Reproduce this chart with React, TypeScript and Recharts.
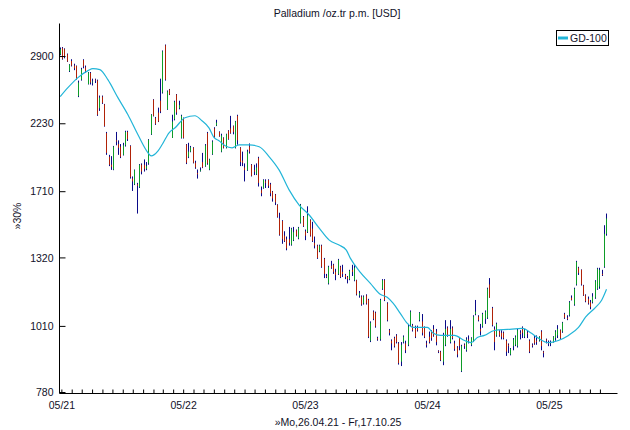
import { Bar, ComposedChart, Line, XAxis, YAxis } from "recharts";

const START = Date.UTC(2021, 3, 26);
const WEEK = 7 * 864e5;

// weekly bars, Mo 26.04.21 .. Fr 17.10.25
const OPEN = [
  2925, 3000, 2985, 2925, 2740, 2850, 2800, 2795, 2485, 2650,
  2860, 2780, 2605, 2720, 2620, 2650, 2640, 2370, 2480, 2405,
  2150, 1960, 1900, 1865, 2090, 2060, 2040, 1975, 2050, 2160,
  2045, 1800, 1760, 1760, 1740, 1900, 1900, 1870, 1910, 2140,
  2450, 2280, 2330, 2440, 2520, 3030, 2360, 2550, 2110, 2270,
  2500, 2370, 2110, 2280, 2055, 1960, 2000, 2030, 1915, 1840,
  1855, 1920, 1890, 2150, 1865, 1980, 2190, 2215, 2160, 2000,
  2110, 2030, 2170, 2190, 2210, 2030, 2300, 2030, 1930, 1880,
  1860, 2040, 1900, 1860, 1830, 1950, 1720, 1735, 1780, 1790,
  1760, 1710, 1690, 1625, 1540, 1525, 1440, 1420, 1420, 1390,
  1415, 1470, 1425, 1515, 1550, 1465, 1460, 1530, 1480, 1400,
  1385, 1355, 1385, 1315, 1230, 1195, 1280, 1285, 1250, 1240,
  1275, 1250, 1235, 1225, 1215, 1260, 1210, 1210, 1140, 1135,
  1105, 1140, 1120, 955, 1070, 1065, 965, 960, 1170, 1210,
  1105, 995, 955, 965, 975, 945, 880, 950, 945, 940,
  1015, 1015, 1000, 1005, 1035, 1030, 1005, 945, 970, 990,
  1000, 990, 918, 915, 880, 940, 1005, 950, 1005, 945,
  930, 965, 848, 940, 920, 960, 940, 955, 1060, 1050,
  1000, 1010, 1040, 1045, 1190, 1085, 1000, 975, 990, 985,
  985, 955, 940, 905, 935, 940, 935, 985, 1005, 970,
  985, 955, 940, 965, 955, 955, 990, 915, 960, 950,
  945, 950, 965, 975, 995, 990, 1060, 1045, 1055, 1130,
  1100, 1190, 1270, 1260, 1185, 1140, 1125, 1110, 1110, 1130,
  1170, 1180, 1240, 1275, 1450,
];
const HIGH = [
  3005, 3010, 2995, 2935, 2815, 2870, 2820, 2800, 2640, 2775,
  2870, 2800, 2730, 2730, 2660, 2660, 2650, 2490, 2490, 2410,
  2160, 1975, 1965, 2045, 2160, 2090, 2060, 2070, 2170, 2170,
  2050, 1815, 1865, 1770, 1905, 1910, 1940, 1920, 2100, 2315,
  2455, 2290, 2375, 2660, 2970, 3040, 2540, 2555, 2310, 2440,
  2505, 2440, 2310, 2285, 2060, 2070, 2045, 2035, 1930, 1865,
  1880, 1990, 2060, 2160, 1945, 2090, 2200, 2265, 2165, 2145,
  2115, 2145, 2175, 2300, 2215, 2255, 2310, 2035, 2000, 1910,
  2015, 2065, 1905, 1900, 1910, 1960, 1745, 1795, 1795, 1795,
  1770, 1715, 1695, 1628, 1575, 1530, 1465, 1435, 1490, 1485,
  1490, 1475, 1490, 1630, 1555, 1475, 1615, 1535, 1520, 1435,
  1390, 1390, 1390, 1320, 1240, 1280, 1305, 1290, 1265, 1315,
  1280, 1285, 1240, 1230, 1260, 1285, 1285, 1212, 1160, 1140,
  1140, 1145, 1125, 1030, 1075, 1070, 970, 1125, 1215, 1215,
  1110, 1000, 960, 970, 980, 950, 950, 975, 955, 1020,
  1075, 1020, 1013, 1013, 1068, 1060, 1010, 955, 990, 995,
  1015, 1000, 920, 918, 985, 1035, 1010, 1035, 1010, 955,
  935, 968, 940, 945, 968, 975, 968, 1055, 1120, 1055,
  1020, 1065, 1075, 1175, 1220, 1090, 1010, 1025, 995, 995,
  990, 960, 945, 928, 965, 975, 1000, 995, 1010, 1000,
  995, 960, 945, 975, 975, 972, 995, 918, 963, 956,
  956, 972, 995, 1015, 998, 1028, 1065, 1055, 1115, 1140,
  1175, 1305, 1275, 1262, 1188, 1145, 1135, 1120, 1150, 1210,
  1270, 1270, 1260, 1500, 1570,
];
const LOW = [
  2915, 2865, 2880, 2840, 2730, 2790, 2750, 2650, 2475, 2640,
  2770, 2720, 2600, 2600, 2590, 2615, 2300, 2345, 2410, 2205,
  1975, 1890, 1862, 1860, 2050, 1975, 1950, 1970, 2040, 2085,
  1800, 1715, 1755, 1570, 1735, 1830, 1850, 1860, 1900, 2135,
  2295, 2220, 2245, 2325, 2510, 2640, 2355, 2495, 2110, 2260,
  2310, 2360, 2105, 2105, 1905, 1950, 1995, 1910, 1870, 1800,
  1850, 1875, 1885, 1900, 1860, 1975, 2110, 2210, 2120, 1995,
  2025, 2025, 2095, 2145, 2140, 2025, 2055, 1890, 1890, 1780,
  1855, 1985, 1815, 1825, 1825, 1745, 1680, 1730, 1735, 1735,
  1680, 1645, 1623, 1545, 1440, 1395, 1405, 1360, 1385, 1385,
  1410, 1435, 1420, 1510, 1490, 1415, 1455, 1435, 1405, 1370,
  1315, 1350, 1270, 1220, 1220, 1190, 1265, 1240, 1210, 1235,
  1220, 1225, 1215, 1195, 1210, 1230, 1205, 1140, 1130, 1095,
  1100, 1100, 965, 950, 1035, 1005, 955, 955, 1165, 1115,
  1030, 975, 920, 930, 945, 870, 865, 945, 910, 935,
  1010, 990, 965, 990, 1030, 975, 965, 930, 945, 955,
  970, 938, 910, 882, 868, 935, 970, 945, 960, 918,
  895, 920, 845, 925, 915, 945, 935, 950, 1055, 1030,
  975, 1005, 1020, 1040, 1130, 1010, 920, 970, 970, 960,
  960, 900, 910, 902, 920, 935, 930, 960, 965, 965,
  965, 910, 930, 940, 940, 952, 920, 895, 945, 935,
  935, 948, 955, 965, 962, 985, 1040, 1035, 1050, 1118,
  1095, 1185, 1235, 1185, 1138, 1110, 1100, 1080, 1105, 1125,
  1165, 1170, 1230, 1270, 1440,
];
const CLOSE = [
  2985, 2875, 2895, 2845, 2810, 2800, 2770, 2655, 2620, 2760,
  2790, 2740, 2725, 2620, 2630, 2640, 2310, 2470, 2420, 2210,
  1990, 1900, 1885, 2040, 2080, 2030, 1960, 2050, 2160, 2100,
  1810, 1780, 1860, 1750, 1900, 1850, 1870, 1890, 2095, 2310,
  2300, 2230, 2250, 2340, 2960, 2650, 2530, 2500, 2250, 2430,
  2330, 2400, 2300, 2110, 1915, 2000, 2035, 1915, 1880, 1830,
  1860, 1880, 2050, 1910, 1940, 2080, 2120, 2240, 2125, 2130,
  2030, 2140, 2100, 2150, 2160, 2250, 2090, 1920, 1915, 1860,
  2000, 2000, 1820, 1850, 1880, 1770, 1700, 1790, 1770, 1750,
  1700, 1665, 1640, 1550, 1445, 1420, 1410, 1370, 1400, 1480,
  1460, 1440, 1485, 1625, 1495, 1440, 1560, 1440, 1410, 1385,
  1320, 1385, 1275, 1240, 1225, 1275, 1270, 1250, 1235, 1310,
  1225, 1240, 1225, 1215, 1255, 1250, 1270, 1145, 1150, 1100,
  1135, 1105, 970, 1025, 1040, 1010, 960, 1120, 1210, 1120,
  1035, 985, 945, 935, 950, 875, 940, 970, 920, 1010,
  1070, 995, 970, 995, 1065, 985, 970, 940, 950, 965,
  975, 950, 915, 885, 975, 1000, 975, 1000, 965, 925,
  905, 935, 935, 935, 960, 955, 965, 1050, 1070, 1035,
  990, 1060, 1070, 1170, 1130, 1015, 950, 1020, 975, 970,
  965, 915, 935, 925, 960, 970, 995, 980, 985, 995,
  980, 915, 938, 945, 950, 970, 935, 910, 955, 945,
  950, 970, 990, 1000, 965, 1025, 1045, 1040, 1110, 1120,
  1170, 1300, 1245, 1190, 1140, 1115, 1105, 1090, 1135, 1205,
  1265, 1260, 1235, 1450, 1540,
];

// GD-100 line (week index, value)
const MA_WEEK = [
  0, 3.3, 7.6, 11.9, 14, 17, 20.4, 24.7, 29, 33.3, 37.6, 38.9, 41.9, 43.6, 46.6, 49.2,
  53.4, 57.7, 60.7, 63.7, 65.9, 68, 70.6, 73.6, 76.6, 80.9, 85.2, 89.5, 93.7, 98,
  102.3, 106.6, 110.9, 115.2, 119.4, 122.5, 124.2, 128.5, 132.7, 137, 140, 142.6,
  145.6, 148.6, 151.2, 157.2, 159.8, 162.8, 168.8, 173.1, 176, 178.6, 181.6, 185.9,
  191.5, 197.9, 201.8, 204.8, 209, 213.3, 217.6, 221.9, 224.9, 229.2, 231.8, 233.9,
];
const MA_VALUE = [
  2480, 2568, 2671, 2745, 2767, 2756, 2650, 2470, 2310, 2136, 1991, 1967, 2006, 2054, 2153, 2195,
  2283, 2301, 2256, 2195, 2112, 2087, 2046, 2030, 2054, 2054, 2038, 1960, 1862, 1722,
  1623, 1561, 1483, 1415, 1388, 1361, 1319, 1248, 1196, 1145, 1132, 1105,
  1063, 1022, 1006, 1006, 983, 975, 975, 956, 948, 967, 975, 994,
  998, 1002, 983, 964, 948, 956, 975, 1006, 1047, 1088, 1119, 1168,
];

const Y_TICKS = [780, 1010, 1320, 1710, 2230, 2900];
const X_LABELS = ["05/21", "05/22", "05/23", "05/24", "05/25"];

const GREEN = "#0e9c28";
const RED = "#b02208";
const NAVY = "#0a0a88";
const CYAN = "#22b5d8";
const INK = "#111128";
const FONT = "'Liberation Sans', Arial, sans-serif";

// monthly ticks, May 2021 .. Oct 2025
const MONTHS: { pos: number; label: string }[] = [];
for (let k = 0; k < 54; k++) {
  const yr = 2021 + Math.floor((4 + k) / 12);
  const m = (4 + k) % 12;
  MONTHS.push({
    pos: (Date.UTC(yr, m, 1) - START) / WEEK,
    label: m === 4 ? X_LABELS[yr - 2021] : "",
  });
}

const rows = OPEN.map((o, i) => ({
  i,
  o,
  h: HIGH[i],
  l: LOW[i],
  c: CLOSE[i],
  range: [LOW[i], HIGH[i]],
}));
const maRows = MA_WEEK.map((i, k) => ({ i, v: MA_VALUE[k] }));

function Candle(p: any) {
  const { x, y, width, height, payload } = p;
  if (!payload || height == null) return null;
  const top = Math.min(y, y + height);
  const h = Math.abs(height);
  const cx = Math.floor(x + width / 2);
  const lh = Math.log(payload.h);
  const span = lh - Math.log(payload.l) || 1;
  const py = (v: number) => top + (h * (lh - Math.log(v))) / span;
  const b0 = py(Math.max(payload.o, payload.c));
  const b1 = py(Math.min(payload.o, payload.c));
  return (
    <g>
      <rect x={cx} y={top} width={1} height={Math.max(h, 1)} fill={NAVY} />
      <rect x={cx} y={b0} width={1} height={Math.max(b1 - b0, 1)} fill={payload.c >= payload.o ? GREEN : RED} />
    </g>
  );
}

function BottomTick({ x, y, payload }: any) {
  const m = MONTHS.find((d) => Math.abs(d.pos - payload.value) < 1e-6);
  return (
    <g>
      <line x1={x} x2={x} y1={y} y2={y - 4} stroke="#000" />
      {m && m.label ? (
        <text x={x} y={y + 15.5} textAnchor="middle" fontSize={10.5} fontFamily={FONT} fill={INK}>
          {m.label}
        </text>
      ) : null}
    </g>
  );
}

function TopTick({ x, y }: any) {
  return <line x1={x} x2={x} y1={y} y2={y + 4} stroke="#000" />;
}

function LeftTick({ x, y, payload }: any) {
  return (
    <g>
      <line x1={x} x2={x + 6} y1={y} y2={y} stroke="#000" />
      <text x={x - 6} y={y} dy="0.35em" textAnchor="end" fontSize={10.5} fontFamily={FONT} fill={INK}>
        {payload.value}
      </text>
    </g>
  );
}

function RightTick({ x, y }: any) {
  return <line x1={x} x2={x - 6} y1={y} y2={y} stroke="#000" />;
}

export default function App() {
  const xDomain = [-0.3, 238.6];
  const yDomain = [777, 3300];
  const ticks = MONTHS.map((m) => m.pos);
  return (
    <div style={{ position: "fixed", left: 0, top: 0, width: 630, height: 430, background: "#fff" }}>
      <ComposedChart width={630} height={430} data={rows} margin={{ top: 23.5, right: 12.5, bottom: 0, left: 9.5 }}>
        <XAxis
          xAxisId="b"
          dataKey="i"
          type="number"
          domain={xDomain}
          allowDataOverflow
          ticks={ticks}
          interval={0}
          height={36.5}
          tickSize={0}
          tickMargin={0}
          tickLine={false}
          tick={<BottomTick />}
          axisLine={{ stroke: "#000" }}
        />
        <XAxis
          xAxisId="t"
          orientation="top"
          dataKey="i"
          type="number"
          domain={xDomain}
          allowDataOverflow
          ticks={ticks}
          interval={0}
          height={0}
          tickSize={0}
          tickMargin={0}
          tickLine={false}
          tick={<TopTick />}
          axisLine={{ stroke: "#000" }}
        />
        <YAxis
          yAxisId="l"
          scale="log"
          domain={yDomain}
          allowDataOverflow
          ticks={Y_TICKS}
          interval={0}
          width={50}
          tickSize={0}
          tickMargin={0}
          tickLine={false}
          tick={<LeftTick />}
          axisLine={{ stroke: "#000" }}
        />
        <YAxis
          yAxisId="r"
          orientation="right"
          scale="log"
          domain={yDomain}
          allowDataOverflow
          ticks={Y_TICKS}
          interval={0}
          width={0}
          tickSize={0}
          tickMargin={0}
          tickLine={false}
          tick={<RightTick />}
          axisLine={{ stroke: "#000" }}
        />
        <Bar
          xAxisId="b"
          yAxisId="l"
          dataKey="range"
          barSize={2}
          shape={(p: any) => <Candle {...p} />}
          isAnimationActive={false}
        />
        <Line
          xAxisId="b"
          yAxisId="l"
          data={maRows}
          dataKey="v"
          type="monotone"
          stroke={CYAN}
          strokeWidth={1.2}
          dot={false}
          activeDot={false}
          isAnimationActive={false}
        />
      </ComposedChart>
      <svg
        width={630}
        height={430}
        style={{ position: "absolute", left: 0, top: 0, pointerEvents: "none" }}
        fontFamily={FONT}
        fontSize={10.5}
        fill={INK}
      >
        <text x={337} y={16.5} textAnchor="middle">
          Palladium /oz.tr p.m. [USD]
        </text>
        <text x={338} y={425.5} textAnchor="middle">
          »Mo,26.04.21 - Fr,17.10.25
        </text>
        <text transform="translate(21,216) rotate(-90)" textAnchor="middle">
          »30%
        </text>
        <rect x={556.5} y={30.5} width={52} height={15} fill="#fff" stroke="#000" />
        <line x1={558} x2={568} y1={38} y2={38} stroke={CYAN} strokeWidth={3} />
        <text x={570} y={42}>
          GD-100
        </text>
      </svg>
    </div>
  );
}
